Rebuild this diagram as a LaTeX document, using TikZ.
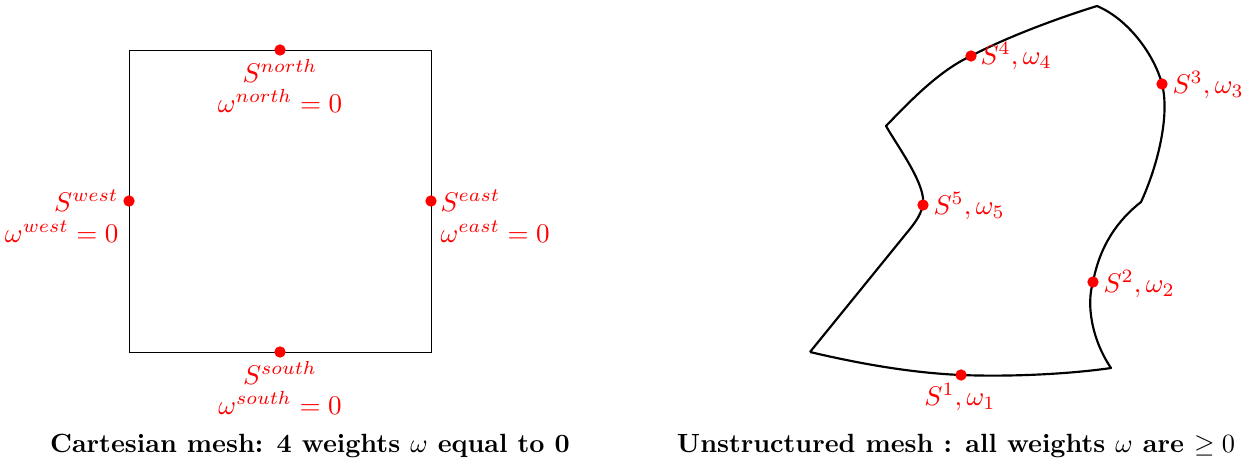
\documentclass[tikz,border=0pt]{standalone}
\begin{document}
\begin{tikzpicture}[x=0.37pt,y=-0.37pt,
  lbl/.style={text=red,inner sep=0pt},
  dot/.style={fill=red,draw=none},
  meshline/.style={draw=black,line width=0.35pt},
  shapeline/.style={draw=black,line width=0.8pt,line join=round},
  title/.style={inner sep=0pt,anchor=base,scale=0.975}]
\useasboundingbox (0,0) rectangle (1253,463);
% ---------- Cartesian cell ----------
\coordinate (sqNW) at (129,50);
\coordinate (sqSE) at (431,352);
\coordinate (pN) at (280,50);
\coordinate (pS) at (280,352);
\coordinate (pW) at (129,201);
\coordinate (pE) at (431,201);
\draw[meshline] (sqNW) rectangle (sqSE);
\foreach \p in {pN,pS,pW,pE} \fill[dot] (\p) circle[radius=2.1pt];
\node[lbl,anchor=base] (lN1) at (280,82) {$S^{north}$};
\node[lbl,anchor=base] (lN2) at (280,112) {$\omega^{north}=0$};
\node[lbl,anchor=base] (lS1) at (280,384) {$S^{south}$};
\node[lbl,anchor=base] (lS2) at (280,414) {$\omega^{south}=0$};
\node[lbl,anchor=base east] (lW1) at (119,211) {$S^{west}$};
\node[lbl,anchor=base east] (lW2) at (119,242) {$\omega^{west}=0$};
\node[lbl,anchor=base west] (lE1) at (440,211) {$S^{east}$};
\node[lbl,anchor=base west] (lE2) at (440,242) {$\omega^{east}=0$};
% ---------- Unstructured cell ----------
\coordinate (A) at (810,352);
\coordinate (B) at (1111,368);
\coordinate (C) at (1141,202);
\coordinate (T) at (1097,6);
\coordinate (L) at (886,126);
\coordinate (s1) at (961,375);
\coordinate (s2) at (1093,282);
\coordinate (s3) at (1162,84);
\coordinate (s4) at (971,56);
\coordinate (s5) at (923,205);
\draw[shapeline]
  (A) .. controls (865,365) and (915,373) .. (s1)
      .. controls (1010,377) and (1070,374) .. (B)
      .. controls (1092,340) and (1086,305) .. (s2)
      .. controls (1100,245) and (1118,220) .. (C)
      .. controls (1158,165) and (1170,115) .. (s3)
      .. controls (1155,57) and (1130,20) .. (T)
      .. controls (1055,19) and (1005,38) .. (s4)
      .. controls (940,70) and (910,101) .. (L)
      .. controls (900,150) and (926,185) .. (s5)
      .. controls (920,217) and (914,224) .. (905,235)
      -- (A);
\foreach \p in {s1,s2,s3,s4,s5} \fill[dot] (\p) circle[radius=2.1pt];
\node[lbl,anchor=base west] (l4) at (980,64) {$S^4,\omega_4$};
\node[lbl,anchor=base west] (l3) at (1172,93) {$S^3,\omega_3$};
\node[lbl,anchor=base west] (l5) at (933,214) {$S^5,\omega_5$};
\node[lbl,anchor=base west] (l2) at (1103,292) {$S^2,\omega_2$};
\node[lbl,anchor=base] (l1) at (960,405) {$S^1,\omega_1$};
% ---------- captions ----------
\node[title] (t1) at (310,452) {\textbf{Cartesian mesh: 4 weights $\omega$ equal to 0}};
\node[title] (t2) at (956,452) {\textbf{Unstructured mesh : all weights $\omega$ are $\geq 0$}};
\end{tikzpicture}
\end{document}
